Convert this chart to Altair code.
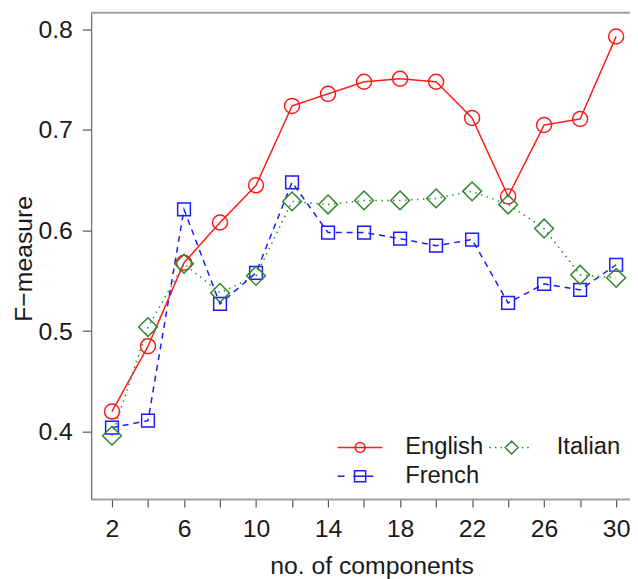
import altair as alt
import pandas as pd

# ---- data ----
components = [2, 4, 6, 8, 10, 12, 14, 16, 18, 20, 22, 24, 26, 28, 30]
english = [0.420, 0.485, 0.568, 0.608, 0.645, 0.724, 0.736, 0.748, 0.751, 0.748,
           0.712, 0.634, 0.705, 0.711, 0.793]
french = [0.404, 0.411, 0.621, 0.527, 0.558, 0.648, 0.598, 0.598, 0.592, 0.585,
          0.591, 0.528, 0.547, 0.541, 0.566]
italian = [0.396, 0.504, 0.567, 0.538, 0.555, 0.629, 0.626, 0.630, 0.630, 0.632,
           0.639, 0.626, 0.602, 0.556, 0.553]
languages = ["English", "French", "Italian"]   # legend fills column-wise, 2 columns
y_ticks = [0.4, 0.5, 0.6, 0.7, 0.8]

series = {"English": english, "French": french, "Italian": italian}
df = pd.DataFrame(
    [{"lang": k, "comp": c, "fm": v} for k, vals in series.items() for c, v in zip(components, vals)]
)

FONT = "Liberation Sans"
W, H = 544, 491

styles = {
    "English": dict(color="#ff1a1a", dash=[1, 0], shape="circle", size=230),
    "French": dict(color="#1a1aff", dash=[6, 5], shape="square", size=165),
    "Italian": dict(color="#2e862e", dash=[1.5, 4.5], shape="diamond", size=360),
}

x_enc = alt.X(
    "comp:Q",
    scale=alt.Scale(domain=[0.845, 30.77], nice=False, zero=False),
    axis=alt.Axis(
        values=components, labelExpr="datum.value % 4 == 2 ? datum.label : ''",
        tickSize=8, tickColor="#555", tickWidth=1.2,
        domainColor="#a0a0a0", domainWidth=2,
        labelFontSize=25, labelFont=FONT, labelColor="#1a1a1a", labelPadding=10,
        labelFlush=False, labelOverlap=False, grid=False,
        title="no. of components", titleFontSize=25, titleFont=FONT,
        titleFontWeight="normal", titleColor="#1a1a1a",
        titleX=283, titleY=75, titleBaseline="alphabetic", titleAlign="center",
    ),
)
y_enc = alt.Y(
    "fm:Q",
    scale=alt.Scale(domain=[0.333, 0.8167], nice=False, zero=False),
    axis=alt.Axis(
        values=y_ticks, format=".1f",
        tickSize=9, tickColor="#555", tickWidth=1.2,
        domainColor="#666", domainWidth=1.2,
        labelFontSize=25, labelFont=FONT, labelColor="#1a1a1a", labelPadding=10,
        grid=False,
        title="F\u2212measure", titleFontSize=25, titleFont=FONT,
        titleFontWeight="normal", titleColor="#1a1a1a",
        titleX=-60, titleY=248, titleAngle=-90, titleBaseline="alphabetic",
        titleAlign="center",
    ),
)

layers = []
for name in ["English", "French", "Italian"]:
    s = styles[name]
    sub = alt.Chart(df).transform_filter(alt.datum.lang == name)
    layers.append(
        sub.mark_line(color=s["color"], strokeWidth=1.5, strokeDash=s["dash"]).encode(x=x_enc, y=y_enc)
    )
    layers.append(
        sub.mark_point(shape=s["shape"], filled=False, size=s["size"], color=s["color"],
                       strokeWidth=1.5, opacity=1).encode(x=x_enc, y=y_enc)
    )

# legend symbols: line + marker, drawn as custom paths (unit = half symbol width)
path_by_lang = {
    "English": "M-1,0L1,0M0.22,0A0.22,0.22 0 1,1 -0.22,0A0.22,0.22 0 1,1 0.22,0",
    "Italian": "M-1,0L-0.93,0M-0.75,0L-0.68,0M-0.5,0L-0.43,0M0.45,0L0.52,0M0.7,0L0.77,0"
               "M-0.29,0L0,-0.29L0.29,0L0,0.29Z",
    "French": "M-1,0L-0.7,0M-0.3,0L0.6,0M-0.25,-0.25L0.25,-0.25L0.25,0.25L-0.25,0.25Z",
}
legend_paths = [path_by_lang[n] for n in languages]
legend_colors = [styles[n]["color"] for n in languages]

leg = alt.Legend(
    title=None, orient="none", legendX=248, legendY=427, columns=2,
    symbolSize=2025, symbolStrokeWidth=1.5, symbolOpacity=1,
    labelFontSize=24, labelFont=FONT, labelColor="#1a1a1a", labelOffset=22,
    columnPadding=5, rowPadding=5, padding=0, clipHeight=24,
)
legend_layer = (
    alt.Chart(df)
    .transform_filter("false")
    .mark_point(filled=False)
    .encode(
        x=x_enc, y=y_enc,
        color=alt.Color("lang:N", scale=alt.Scale(domain=languages, range=legend_colors), legend=leg),
        shape=alt.Shape("lang:N", scale=alt.Scale(domain=languages, range=legend_paths), legend=leg),
    )
)

top_frame = (
    alt.Chart(pd.DataFrame({"a": [0]}))
    .mark_rule(color="#a0a0a0", strokeWidth=2)
    .encode(x=alt.value(0), x2=alt.value(W), y=alt.value(0))
)

chart = (
    alt.layer(legend_layer, *layers, top_frame)
    .properties(
        width=W, height=H,
        padding={"left": 84, "top": 2, "right": 0, "bottom": 78},
        autosize=alt.AutoSizeParams(type="none"),
        background="white",
    )
    .configure_view(stroke=None)
)

chart.save("out.html", embed_options={"renderer": "svg", "actions": False})
